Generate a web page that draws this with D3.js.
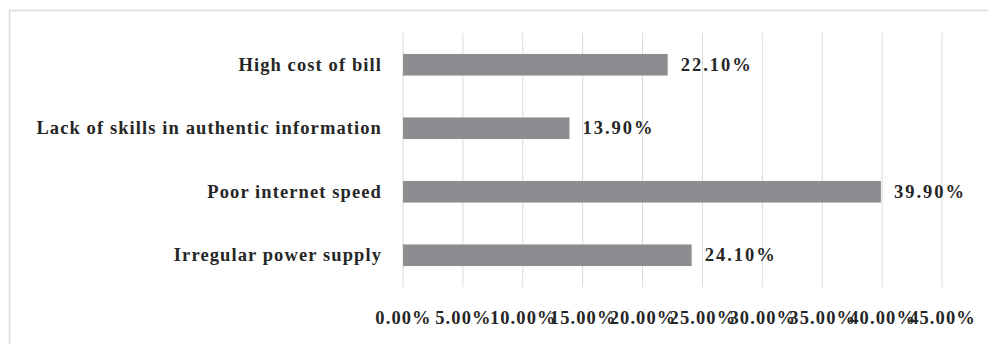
<!DOCTYPE html>
<html>
<head>
<meta charset="utf-8">
<script src="https://cdn.jsdelivr.net/npm/d3@7"></script>
<style>
  html, body { margin: 0; padding: 0; background: #fff; }
  svg { display: block; }
  text { font-family: "Liberation Serif", "Times New Roman", serif; font-weight: bold; fill: #262626; }
</style>
</head>
<body>
<svg id="chart" width="988" height="344"></svg>
<script>
// Barriers to internet use, share of respondents (%)
const categories = [
  "High cost of bill",
  "Lack of skills in authentic information",
  "Poor internet speed",
  "Irregular power supply"
];
const values = [22.1, 13.9, 39.9, 24.1];
const tickValues = [0, 5, 10, 15, 20, 25, 30, 35, 40, 45];

const svg = d3.select("#chart");

const plot = { left: 403, right: 942, top: 33, bottom: 287 };

// Outer frame of the chart area
svg.append("rect")
  .attr("x", 9.5).attr("y", 10.5)
  .attr("width", 1100).attr("height", 600)
  .attr("fill", "none")
  .attr("stroke", "#dcdcdc")
  .attr("stroke-width", 1.5);

const x = d3.scaleLinear().domain([0, 45]).range([plot.left, plot.right]);
const y = d3.scaleBand().domain(categories).range([plot.top, plot.bottom]).paddingInner(0.66).paddingOuter(0.33);

// Vertical gridlines
svg.append("g")
  .selectAll("line")
  .data(tickValues)
  .join("line")
  .attr("x1", d => x(d)).attr("x2", d => x(d))
  .attr("y1", plot.top).attr("y2", plot.bottom)
  .attr("stroke", "#d9d9d9")
  .attr("stroke-width", 1);

// Bars
svg.append("g")
  .selectAll("rect")
  .data(values)
  .join("rect")
  .attr("x", x(0))
  .attr("y", (d, i) => y(categories[i]))
  .attr("width", d => x(d) - x(0))
  .attr("height", y.bandwidth())
  .attr("fill", "#8c8d91");

// Category labels
const fs = 18.5, ls = 1.1;
svg.append("g")
  .selectAll("text")
  .data(categories)
  .join("text")
  .attr("x", plot.left - 21)
  .attr("y", d => y(d) + y.bandwidth() / 2)
  .attr("dy", "0.33em")
  .attr("text-anchor", "end")
  .style("font-size", fs + "px")
  .style("letter-spacing", ls + "px")
  .text(d => d);

// Value labels
svg.append("g")
  .selectAll("text")
  .data(values)
  .join("text")
  .attr("x", d => x(d) + 13)
  .attr("y", (d, i) => y(categories[i]) + y.bandwidth() / 2)
  .attr("dy", "0.33em")
  .style("font-size", fs + "px")
  .style("letter-spacing", "2px")
  .text(d => d.toFixed(2) + "%");

// X axis tick labels
const xAxis = d3.axisBottom(x)
  .tickValues(tickValues)
  .tickSize(0)
  .tickPadding(0)
  .tickFormat(d => d.toFixed(2) + "%");
const gx = svg.append("g")
  .attr("transform", `translate(0, 312)`)
  .call(xAxis);
gx.select(".domain").remove();
gx.selectAll("text")
  .attr("dy", "0.33em")
  .attr("y", 6)
  .style("font-size", fs + "px")
  .style("letter-spacing", ls + "px")
  .attr("font-family", null);
</script>
</body>
</html>
